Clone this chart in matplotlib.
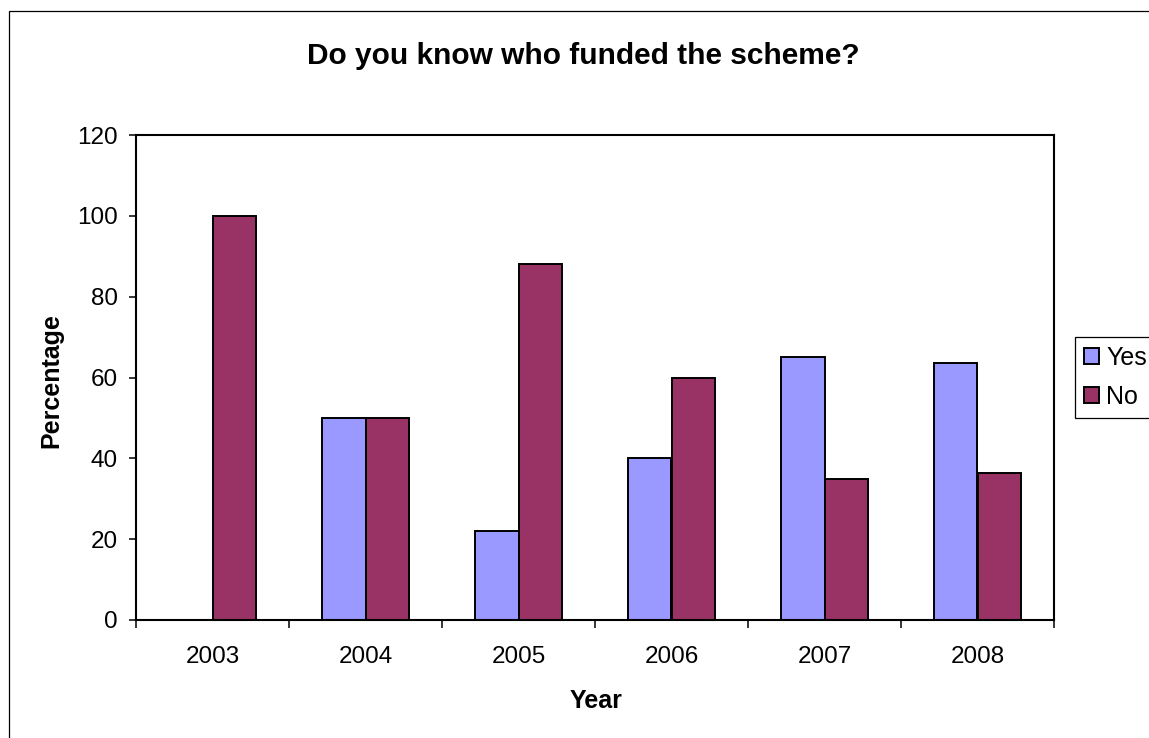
import matplotlib
matplotlib.use("Agg")
import matplotlib.pyplot as plt
import numpy as np
from matplotlib.patches import Rectangle

plt.rcParams['font.family'] = ['Liberation Sans', 'DejaVu Sans']

years = ['2003', '2004', '2005', '2006', '2007', '2008']
yes_pct = [0, 50, 22, 40, 65, 63.6]
no_pct = [100, 50, 88, 60, 35, 36.4]

W, H = 1149, 738
fig = plt.figure(figsize=(W / 100, H / 100), dpi=100)
fig.patch.set_facecolor('white')

# chart area outline (runs off the right and bottom edges)
fig.patches.append(Rectangle((8.5 / W, -0.1), 2.0, 1.1 - 11.5 / H, transform=fig.transFigure,
                             fill=False, edgecolor='black', linewidth=0.9))

ax = fig.add_axes([136 / W, 1 - 620 / H, (1054 - 136) / W, (620 - 135) / H])

x = np.arange(len(years))
bw = 1 / 3.5
ax.bar(x - bw / 2, yes_pct, bw, color='#9999FF', edgecolor='black', linewidth=1.4, label='Yes')
ax.bar(x + bw / 2, no_pct, bw, color='#993366', edgecolor='black', linewidth=1.4, label='No')

ax.set_xlim(-0.5, len(years) - 0.5)
ax.set_ylim(0, 120)
ax.set_yticks(np.arange(0, 121, 20))

# ticks on category boundaries, labels at centres
ax.set_xticks(np.arange(-0.5, len(years), 1.0))
ax.set_xticklabels([])
ax.set_xticks(x, minor=True)
ax.set_xticklabels(years, minor=True)
ax.tick_params(axis='x', which='major', direction='out', length=6, width=1.1, color='black')
ax.tick_params(axis='x', which='minor', length=0, pad=19, labelsize=17.5)
ax.tick_params(axis='y', direction='out', length=5, width=1.1, pad=8, labelsize=17.5)

for s in ax.spines.values():
    s.set_linewidth(1.5)
    s.set_color('black')

fig.text(583 / W, 1 - 64 / H, 'Do you know who funded the scheme?', ha='center', va='baseline',
         fontsize=21.5, fontweight='bold')
fig.text(596 / W, 1 - 708 / H, 'Year', ha='center', va='baseline', fontsize=18, fontweight='bold')
fig.text(51 / W, 1 - 381 / H, 'Percentage', ha='center', va='center', rotation=90,
         fontsize=18, fontweight='bold')

leg = ax.legend(loc='upper left', bbox_to_anchor=(1075 / W, 1 - 337 / H),
                bbox_transform=fig.transFigure, borderaxespad=0, fontsize=18,
                fancybox=False, framealpha=1, edgecolor='black', borderpad=0.35,
                labelspacing=0.6, handlelength=0.6, handleheight=0.6, handletextpad=0.3)
leg.get_frame().set_linewidth(0.9)

fig.savefig('out.png', dpi=100)
